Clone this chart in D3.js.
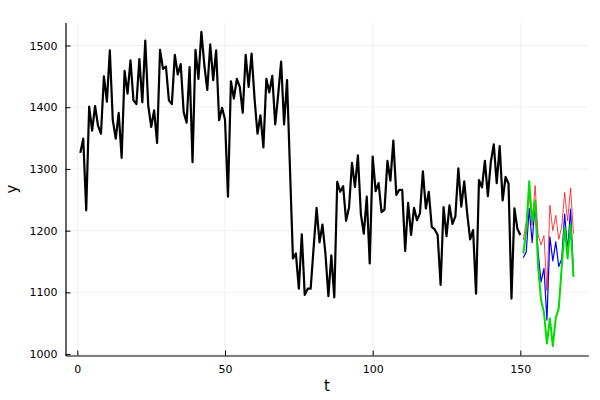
<!DOCTYPE html>
<head>
    <meta charset="utf-8">
    <script src="https://cdn.jsdelivr.net/npm/d3@7"></script>
    <style>
        body { margin: 0; background: #fff; }
        text { font-family: "DejaVu Sans", sans-serif; fill: #000; }
    </style>
</head>
<body>
    <div id="chart"></div>
    <script>
        const width = 600, height = 400;

        // observed series, t = 1..150
        const observed = [
            1326, 1349, 1233, 1401, 1362, 1402, 1370, 1357, 1450, 1409,
            1492, 1379, 1349, 1391, 1318, 1459, 1422, 1476, 1411, 1405,
            1478, 1408, 1508, 1403, 1368, 1395, 1342, 1493, 1462, 1466,
            1411, 1405, 1485, 1453, 1470, 1392, 1375, 1465, 1311, 1493,
            1446, 1522, 1468, 1428, 1502, 1444, 1492, 1379, 1399, 1380,
            1255, 1442, 1414, 1446, 1433, 1391, 1485, 1433, 1487, 1414,
            1357, 1387, 1335, 1446, 1424, 1451, 1372, 1420, 1474, 1372,
            1444, 1300, 1155, 1163, 1106, 1194, 1096, 1106, 1106, 1172,
            1237, 1181, 1210, 1163, 1094, 1160, 1092, 1279, 1263, 1272,
            1216, 1238, 1310, 1271, 1322, 1227, 1195, 1255, 1147, 1320,
            1264, 1277, 1230, 1234, 1313, 1281, 1346, 1258, 1266, 1266,
            1167, 1245, 1193, 1237, 1217, 1228, 1296, 1236, 1263, 1206,
            1202, 1193, 1112, 1238, 1191, 1241, 1211, 1223, 1301, 1239,
            1280, 1228, 1186, 1201, 1098, 1282, 1270, 1313, 1256, 1311,
            1340, 1277, 1337, 1249, 1287, 1276, 1090, 1236, 1203, 1193
        ];

        // forecast paths, t = 151..168
        const forecastRed = [
            1185, 1215, 1258, 1209, 1273, 1194, 1177, 1192, 1103, 1241,
            1200, 1225, 1186, 1206, 1262, 1216, 1269, 1195
        ];
        const forecastBlue = [
            1156, 1166, 1236, 1181, 1242, 1166, 1117, 1139, 1055, 1190,
            1151, 1182, 1142, 1154, 1227, 1167, 1235, 1128
        ];
        const forecastGreen = [
            1163, 1200, 1280, 1215, 1249, 1143, 1088, 1067, 1017, 1058,
            1013, 1059, 1074, 1140, 1205, 1155, 1210, 1125
        ];

        const xTicks = [0, 50, 100, 150];
        const yTicks = [1000, 1100, 1200, 1300, 1400, 1500];

        const obs = observed.map((v, i) => ({ t: i + 1, v: v }));
        const start = observed.length + 1;
        const series = [
            { color: "#ff0000", width: 1, opacity: 0.75, values: forecastRed },
            { color: "#0000ff", width: 1.2, opacity: 1, values: forecastBlue },
            { color: "#00dd00", width: 2, opacity: 1, values: forecastGreen }
        ].map(s => ({ ...s, pts: s.values.map((v, i) => ({ t: start + i, v: v })) }));

        // plot limits widened by 3% like Plots.jl
        const allPts = obs.concat(...series.map(s => s.pts));
        const widen = ([a, b]) => [a - 0.03 * (b - a), b + 0.03 * (b - a)];

        const x = d3.scaleLinear()
            .domain(widen(d3.extent(allPts, d => d.t)))
            .range([65.5, 588.3]);
        const y = d3.scaleLinear()
            .domain(widen(d3.extent(allPts, d => d.v)))
            .range([355.5, 22.5]);

        const svg = d3.select("#chart").append("svg")
            .attr("width", width)
            .attr("height", height);

        // grid
        svg.append("g").selectAll("line").data(xTicks).enter().append("line")
            .attr("x1", d => x(d)).attr("x2", d => x(d))
            .attr("y1", y.range()[0]).attr("y2", y.range()[1])
            .attr("stroke", "#000").attr("stroke-opacity", 0.1).attr("stroke-width", 0.6);
        svg.append("g").selectAll("line").data(yTicks).enter().append("line")
            .attr("x1", x.range()[0]).attr("x2", x.range()[1])
            .attr("y1", d => y(d)).attr("y2", d => y(d))
            .attr("stroke", "#000").attr("stroke-opacity", 0.1).attr("stroke-width", 0.6);

        // axes, ticks pointing inwards
        svg.append("g")
            .attr("transform", `translate(0,${y.range()[0]})`)
            .call(d3.axisBottom(x).tickValues(xTicks).tickFormat(d3.format("d"))
                .tickSizeInner(-5).tickSizeOuter(0).tickPadding(10))
            .call(g => g.select(".domain").attr("stroke-width", 1.2))
            .call(g => g.selectAll("text").attr("font-size", 11));
        svg.append("g")
            .attr("transform", `translate(${x.range()[0]},0)`)
            .call(d3.axisLeft(y).tickValues(yTicks).tickFormat(d3.format("d"))
                .tickSizeInner(-5).tickSizeOuter(0).tickPadding(8))
            .call(g => g.select(".domain").attr("stroke-width", 1.2))
            .call(g => g.selectAll("text").attr("font-size", 11));

        svg.append("text")
            .attr("x", (x.range()[0] + x.range()[1]) / 2)
            .attr("y", 391)
            .attr("text-anchor", "middle")
            .attr("font-size", 15)
            .text("t");
        svg.append("text")
            .attr("transform", `translate(17,${(y.range()[0] + y.range()[1]) / 2}) rotate(-90)`)
            .attr("text-anchor", "middle")
            .attr("font-size", 15)
            .text("y");

        const line = d3.line().x(d => x(d.t)).y(d => y(d.v));

        svg.append("path")
            .datum(obs)
            .attr("d", line)
            .attr("fill", "none")
            .attr("stroke", "#000")
            .attr("stroke-width", 2.2)
            .attr("stroke-linejoin", "round");

        series.forEach(s => {
            svg.append("path")
                .datum(s.pts)
                .attr("d", line)
                .attr("fill", "none")
                .attr("stroke", s.color)
                .attr("stroke-opacity", s.opacity)
                .attr("stroke-width", s.width)
                .attr("stroke-linejoin", "round");
        });
    </script>
</body>
